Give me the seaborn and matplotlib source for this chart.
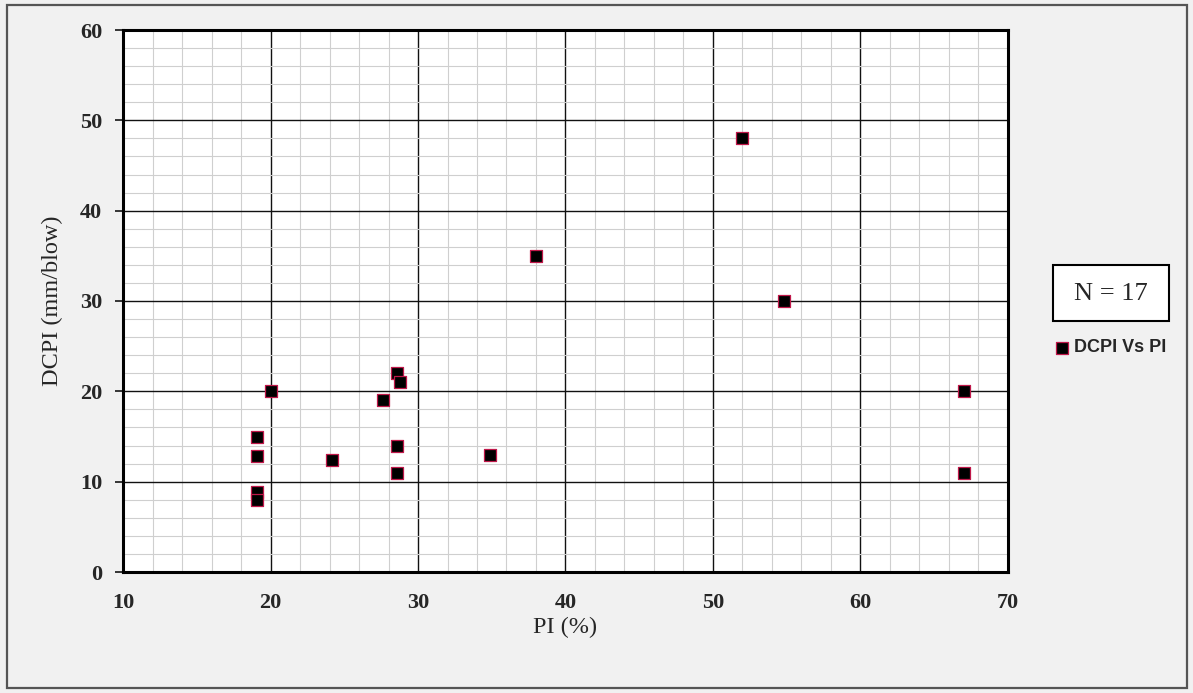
import matplotlib
matplotlib.use("Agg")
import matplotlib.pyplot as plt
import seaborn as sns
import pandas as pd
from matplotlib.ticker import MultipleLocator
from matplotlib.patches import Rectangle

# Data
pi_values = [19.1, 19.1, 19.1, 19.1, 20.0, 24.2, 27.6, 28.6, 28.8, 28.6, 28.6, 34.9, 38.0, 52.0, 54.8, 67.0, 67.0]
dcpi_values = [15.0, 12.8, 8.9, 8.0, 20.0, 12.4, 19.0, 22.0, 21.0, 14.0, 11.0, 13.0, 35.0, 48.0, 30.0, 20.0, 11.0]
series_name = "DCPI Vs PI"
x_ticks = [10, 20, 30, 40, 50, 60, 70]
y_ticks = [0, 10, 20, 30, 40, 50, 60]
n_label = "N = 17"

df = pd.DataFrame({"PI": pi_values, "DCPI": dcpi_values})

sns.set_style("white")
plt.rcParams["font.family"] = ["Liberation Serif", "DejaVu Serif"]

W, H = 1193, 693
fig = plt.figure(figsize=(W / 100, H / 100), dpi=100)
fig.patch.set_facecolor("#f1f1f1")

ax = fig.add_axes([123 / W, 1 - 572 / H, 885 / W, 542 / H])
ax.set_facecolor("white")

sns.scatterplot(data=df, x="PI", y="DCPI", ax=ax, marker="s", s=72,
                color="black", edgecolor="#c0184a", linewidth=0.9,
                label=series_name, zorder=3)

ax.set_xlim(10, 70)
ax.set_ylim(0, 60)
ax.set_xticks(x_ticks)
ax.set_yticks(y_ticks)
ax.xaxis.set_minor_locator(MultipleLocator(2))
ax.yaxis.set_minor_locator(MultipleLocator(2))
ax.set_axisbelow(True)
ax.grid(which="minor", color="#cfcfcf", linewidth=0.8)
ax.grid(which="major", color="#111111", linewidth=1.0)

for sp in ax.spines.values():
    sp.set_visible(True)
    sp.set_color("black")
    sp.set_linewidth(2.2)

ax.tick_params(axis="x", which="major", length=0, pad=15, labelsize=16)
ax.tick_params(axis="y", which="major", length=6, width=1.3, direction="out",
               left=True, pad=9, labelsize=16)
ax.tick_params(which="minor", length=0)
for lab in ax.get_xticklabels() + ax.get_yticklabels():
    lab.set_fontweight("bold")

ax.set_xlabel("PI (%)", fontsize=17.5)
ax.set_ylabel("DCPI (mm/blow)", fontsize=17.5)
ax.xaxis.set_label_coords(0.5, -0.083)
ax.yaxis.set_label_coords(-0.068, 0.5)

# Legend
leg = ax.legend(loc="center left", bbox_to_anchor=(1053 / W, 1 - 348 / H),
                bbox_transform=fig.transFigure, frameon=False,
                handletextpad=0.15, handlelength=1.0, borderpad=0, borderaxespad=0,
                prop={"family": "Liberation Sans", "weight": "bold", "size": 13})

# N = 17 box
fig.patches.append(Rectangle((1053 / W, 1 - 321 / H), 116 / W, 56 / H,
                             transform=fig.transFigure, facecolor="white",
                             edgecolor="black", linewidth=1.5))
fig.text(1111 / W, 1 - 294 / H, n_label, ha="center", va="center", fontsize=19,
         family="Liberation Serif")

# Outer border
fig.patches.append(Rectangle((7 / W, 1 - 688 / H), 1180 / W, 683 / H,
                             transform=fig.transFigure, facecolor="none",
                             edgecolor="#555555", linewidth=1.6))

fig.savefig("out.png", dpi=100, facecolor=fig.get_facecolor())
